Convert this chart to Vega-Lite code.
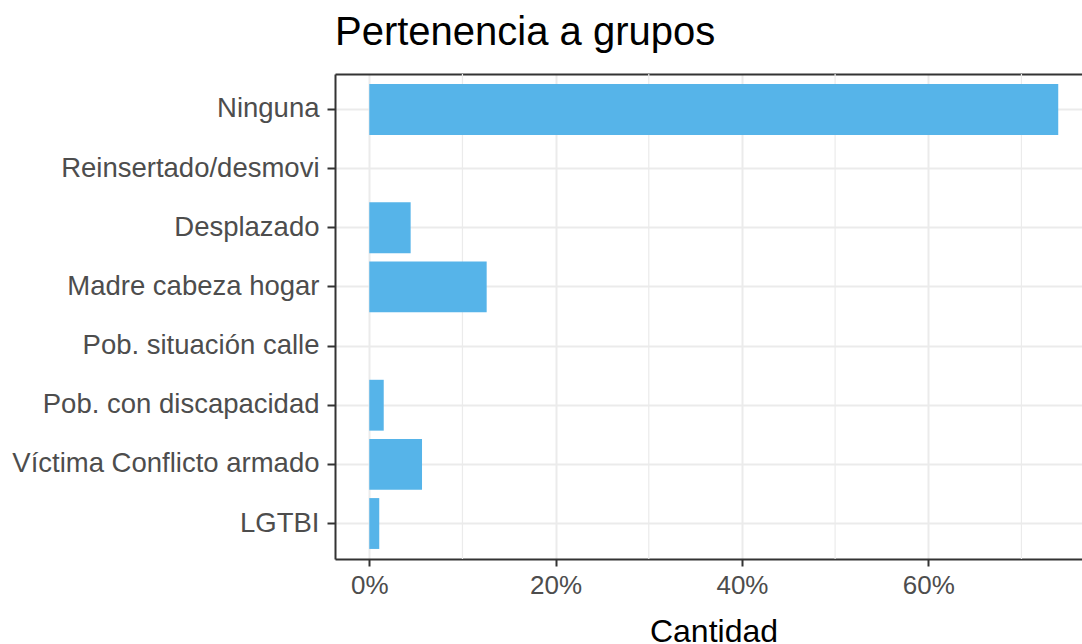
{
  "$schema": "https://vega.github.io/schema/vega-lite/v6.json",
  "width": 747,
  "height": 485,
  "autosize": {"type": "none"},
  "padding": {"left": 335, "top": 74, "right": 0, "bottom": 85},
  "background": "#ffffff",
  "title": {
    "text": "Pertenencia a grupos",
    "anchor": "start",
    "frame": "group",
    "font": "Liberation Sans",
    "fontSize": 40,
    "fontWeight": "normal",
    "color": "#000000",
    "baseline": "alphabetic",
    "offset": -12
  },
  "config": {
    "view": {"stroke": null},
    "axis": {
      "labelFont": "Liberation Sans",
      "titleFont": "Liberation Sans",
      "labelColor": "#4d4d4d",
      "domainColor": "#333333",
      "domainWidth": 2,
      "tickColor": "#333333",
      "tickWidth": 2,
      "gridColor": "#ebebeb",
      "gridWidth": 2
    }
  },
  "datasets": {
    "grupos": [
      {"grupo": "Ninguna", "pct": 73.95},
      {"grupo": "Reinsertado/desmovi", "pct": 0},
      {"grupo": "Desplazado", "pct": 4.44},
      {"grupo": "Madre cabeza hogar", "pct": 12.6},
      {"grupo": "Pob. situación calle", "pct": 0},
      {"grupo": "Pob. con discapacidad", "pct": 1.55},
      {"grupo": "Víctima Conflicto armado", "pct": 5.66},
      {"grupo": "LGTBI", "pct": 1.07}
    ],
    "minor": [{"v": 10}, {"v": 30}, {"v": 50}, {"v": 70}]
  },
  "layer": [
    {
      "data": {"name": "minor"},
      "mark": {"type": "rule", "color": "#ebebeb", "strokeWidth": 1.2},
      "encoding": {
        "x": {
          "field": "v",
          "type": "quantitative",
          "scale": {"domain": [-3.68, 76.5], "nice": false, "zero": false},
          "axis": {
            "orient": "top",
            "labels": false,
            "ticks": false,
            "grid": false,
            "title": null,
            "domain": true,
            "minExtent": 0,
            "maxExtent": 0
          }
        }
      }
    },
    {
      "data": {"name": "grupos"},
      "mark": {"type": "bar", "color": "#56B4E9"},
      "encoding": {
        "y": {
          "field": "grupo",
          "type": "nominal",
          "sort": ["Ninguna", "Reinsertado/desmovi", "Desplazado", "Madre cabeza hogar", "Pob. situación calle", "Pob. con discapacidad", "Víctima Conflicto armado", "LGTBI"],
          "scale": {"paddingInner": 0.14, "paddingOuter": 0.17},
          "axis": {
            "title": null,
            "grid": true,
            "bandPosition": 0.5,
            "labelFontSize": 27.5,
            "labelLimit": 400,
            "tickSize": 8,
            "labelPadding": 8
          }
        },
        "x": {
          "field": "pct",
          "type": "quantitative",
          "scale": {"domain": [-3.68, 76.5], "nice": false, "zero": false},
          "axis": {
            "orient": "bottom",
            "values": [0, 20, 40, 60],
            "labelExpr": "datum.value + '%'",
            "labelFontSize": 26,
            "labelPadding": 6,
            "tickSize": 7,
            "grid": true,
            "title": "Cantidad",
            "titleFontSize": 32,
            "titleFontWeight": "normal",
            "titleColor": "#000000",
            "titlePadding": 18,
            "titleX": 378.5
          }
        }
      }
    }
  ],
  "resolve": {"axis": {"x": "independent"}}
}
